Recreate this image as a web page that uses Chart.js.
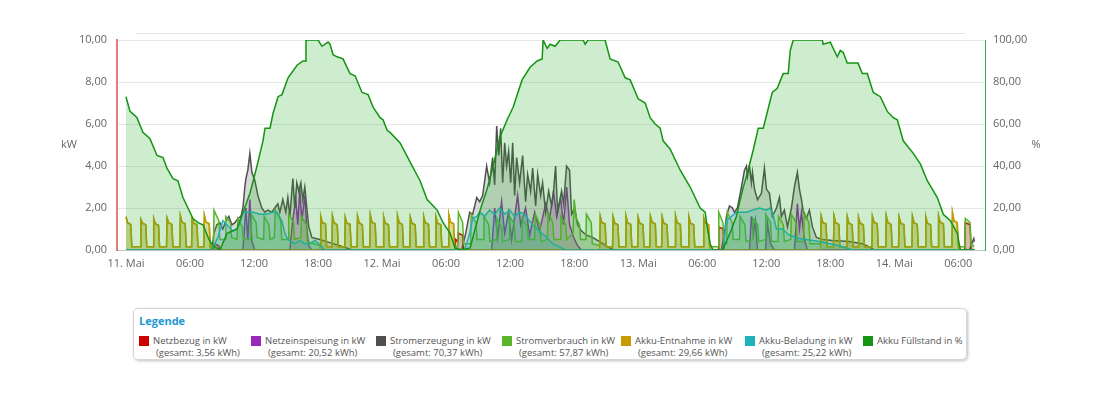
<!DOCTYPE html>
<html lang="de">
<head>
<meta charset="utf-8">
<title>Energiefluss</title>
<script src="https://cdn.jsdelivr.net/npm/chart.js@4.4.1/dist/chart.umd.min.js"></script>
<style>
  body { margin: 0; background: #fff; font-family: "Open Sans", sans-serif; }
  #chart-wrap { position: absolute; left: 0; top: 0; width: 1100px; height: 290px; }
  #legend {
    position: absolute; left: 133px; top: 308px; width: 834px; height: 52px;
    box-sizing: border-box; border: 1px solid #d6d6d6; border-radius: 5px;
    box-shadow: 1px 1px 3px rgba(0, 0, 0, 0.25); padding: 5px 5px 0 5px;
  }
  #legend .title { font-size: 11px; font-weight: bold; color: #1d98d3; line-height: 13px; }
  #legend .items { display: flex; margin-top: 8px; }
  #legend .item {
    display: flex; flex: none; white-space: nowrap;
    font-size: 9.5px; color: #555; line-height: 12px;
  }
  #legend .swatch { width: 10px; height: 10px; margin: 1px 4px 0 0; flex: none; }
  #legend .sum { padding-left: 3px; }
</style>
</head>
<body>
<div id="chart-wrap"><canvas id="energy-chart"></canvas></div>
<div id="legend">
  <div class="title">Legende</div>
  <div class="items" id="legend-items"></div>
</div>

<script>
// x values are hours since 11. Mai 00:00
const tickHours = [0, 6, 12, 18, 24, 30, 36, 42, 48, 54, 60, 66, 72, 78];
const tickLabels = ["11. Mai", "06:00", "12:00", "18:00", "12. Mai", "06:00", "12:00",
  "18:00", "13. Mai", "06:00", "12:00", "18:00", "14. Mai", "06:00"];

const seriesNames = ["Netzbezug in kW", "Netzeinspeisung in kW", "Stromerzeugung in kW",
  "Stromverbrauch in kW", "Akku-Entnahme in kW", "Akku-Beladung in kW", "Akku Füllstand in %"];
const seriesTotals = ["3,56 kWh", "20,52 kWh", "70,37 kWh", "57,87 kWh", "29,66 kWh", "25,22 kWh", null];

// [hour, kW]
const netzbezug = [
  [0, 0], [8.2, 0], [8.25, 0.3], [8.7, 0.2], [8.8, 0],
  [30.8, 0], [30.9, 0.5], [31.1, 0.4], [31.15, 0.8], [31.55, 0.7], [31.65, 0],
  [55.5, 0], [55.55, 1.1], [55.95, 1.0], [56.05, 0],
  [78.6, 0], [78.65, 1.3], [79.1, 1.2], [79.2, 0], [79.5, 0]
];

const netzeinspeisung = [
  [0, 0], [10.96, 0], [11.24, 2.0], [11.42, 0.5], [11.61, 2.4], [11.8, 0.4], [12.08, 0],
  [15.36, 0], [15.64, 1.5], [15.92, 2.4], [16.1, 1.2], [16.29, 2.9], [16.48, 1.4],
  [16.76, 2.6], [16.95, 1.0], [17.13, 0.2], [17.4, 0],
  [34.27, 0], [34.55, 2.0], [34.83, 0.6], [35.2, 2.3], [35.49, 0.8], [35.86, 1.8],
  [36.14, 0.5], [36.7, 2.6], [36.99, 1.2], [37.45, 2.0], [37.83, 0.7], [38.3, 1.8],
  [38.76, 0.9], [39.33, 2.2], [39.7, 1.5], [40.07, 2.8], [40.36, 1.6], [40.73, 2.5],
  [41.0, 1.2], [41.3, 3.0], [41.57, 1.2], [41.95, 0.6], [42.32, 0.2], [42.7, 0],
  [58.43, 0], [58.61, 1.6], [58.8, 0.8], [58.99, 1.4], [59.18, 0], [59.93, 0],
  [60.11, 1.3], [60.39, 0.3], [60.77, 0], [62.64, 0], [62.92, 2.2], [63.11, 1.0],
  [63.3, 1.8], [63.58, 0.5], [63.86, 0], [79.5, 0]
];

const stromerzeugung = [
  [0, 0], [8.05, 0], [8.24, 0.8], [8.52, 1.2], [8.8, 1.3], [9.08, 1.0], [9.36, 1.4],
  [9.64, 1.6], [9.93, 1.2], [10.21, 1.3], [10.49, 1.5], [10.77, 1.6], [10.96, 2.0],
  [11.14, 3.0], [11.24, 3.4], [11.42, 3.8], [11.61, 4.6], [11.8, 3.7], [12.08, 3.3],
  [12.36, 2.6], [12.73, 2.0], [13.01, 1.8], [13.3, 1.9], [13.67, 1.8], [13.95, 2.0],
  [14.23, 2.2], [14.42, 1.8], [14.7, 2.4], [14.98, 1.8], [15.17, 2.5], [15.36, 1.6],
  [15.64, 3.4], [15.82, 2.0], [16.01, 3.2], [16.2, 2.8], [16.39, 3.2], [16.57, 2.4],
  [16.76, 3.0], [16.95, 2.0], [17.13, 1.1], [17.42, 0.6], [18.16, 0.5], [19.1, 0.35],
  [20.04, 0.2], [20.97, 0.05], [21.16, 0],
  [31.46, 0], [31.84, 0.8], [32.21, 1.8], [32.49, 1.7], [32.87, 2.5], [33.15, 2.3],
  [33.43, 2.6], [33.8, 4.0], [34.08, 3.2], [34.36, 4.4], [34.55, 3.1], [34.74, 5.9],
  [34.93, 4.5], [35.11, 5.8], [35.3, 3.2], [35.49, 5.1], [35.67, 4.0], [35.86, 4.7],
  [36.05, 3.2], [36.24, 5.1], [36.42, 2.6], [36.61, 4.4], [36.89, 3.2], [37.17, 4.5],
  [37.45, 2.3], [37.64, 3.6], [37.92, 2.8], [38.11, 3.9], [38.39, 2.1], [38.58, 3.6],
  [38.86, 2.6], [39.04, 3.2], [39.33, 1.8], [39.61, 2.8], [39.89, 2.1], [40.07, 2.8],
  [40.26, 4.0], [40.45, 1.8], [40.82, 2.8], [41.01, 2.2], [41.29, 4.0], [41.57, 3.8],
  [41.76, 1.7], [42.04, 2.0], [42.32, 1.2], [42.7, 0.9], [43.16, 0.7], [43.73, 0.6],
  [44.38, 0.4], [45.32, 0.1], [45.79, 0],
  [55.8, 0], [56.09, 0.8], [56.27, 1.6], [56.55, 2.1], [56.84, 2.0], [57.02, 1.8],
  [57.3, 2.0], [57.68, 3.0], [57.96, 3.8], [58.15, 4.0], [58.24, 3.5], [58.43, 4.0],
  [58.61, 3.2], [58.71, 3.7], [58.9, 2.9], [59.18, 2.4], [59.55, 2.7], [59.83, 3.9],
  [60.02, 2.9], [60.3, 2.7], [60.58, 1.6], [60.96, 2.0], [61.24, 2.5], [61.42, 1.6],
  [61.7, 1.9], [61.99, 1.1], [62.36, 2.0], [62.64, 3.0], [62.92, 3.7], [63.11, 2.9],
  [63.3, 2.4], [63.48, 1.8], [63.76, 1.5], [64.04, 1.9], [64.33, 1.1], [64.7, 0.6],
  [65.26, 0.5], [66.2, 0.45], [67.79, 0.4], [69.01, 0.3], [69.66, 0.15], [70.13, 0],
  [79.03, 0], [79.45, 0.55], [79.5, 0.4]
];

// consumption pulses at night, covered by the battery
const nightPulses = [
  [0, 1.58], [0.15, 1.3], [0.45, 1.22], [0.55, 0.16],
  [1.35, 0.16], [1.4, 1.45], [1.55, 1.28], [1.85, 1.2], [1.95, 0.16],
  [2.55, 0.16], [2.6, 1.5], [2.75, 1.25], [3.05, 1.18], [3.15, 0.16],
  [3.8, 0.16], [3.85, 1.52], [4.0, 1.3], [4.3, 1.22], [4.4, 0.16],
  [5.05, 0.16], [5.1, 1.62], [5.25, 1.32], [5.55, 1.25], [5.65, 0.16],
  [6.15, 0.16], [6.2, 1.5], [6.35, 1.28], [6.65, 1.2], [6.75, 0.16],
  [7.3, 0.16], [7.35, 1.65], [7.5, 1.33], [7.8, 1.25], [7.9, 0.16],

  [18.2, 0.2], [18.25, 1.6], [18.4, 1.3], [18.7, 1.25], [18.8, 0.16],
  [19.3, 0.16], [19.35, 1.62], [19.5, 1.3], [19.8, 1.2], [19.9, 0.16],
  [20.5, 0.16], [20.55, 1.55], [20.7, 1.28], [21.0, 1.22], [21.1, 0.16],
  [21.65, 0.16], [21.7, 1.6], [21.85, 1.3], [22.15, 1.2], [22.25, 0.16],
  [22.85, 0.16], [22.9, 1.66], [23.05, 1.32], [23.35, 1.25], [23.45, 0.16],
  [24.1, 0.16], [24.15, 1.58], [24.3, 1.28], [24.6, 1.2], [24.7, 0.16],
  [25.4, 0.16], [25.45, 1.62], [25.6, 1.3], [25.9, 1.22], [26.0, 0.16],
  [26.6, 0.16], [26.65, 1.55], [26.8, 1.28], [27.1, 1.2], [27.2, 0.16],
  [27.85, 0.16], [27.9, 1.6], [28.05, 1.3], [28.35, 1.22], [28.45, 0.16],
  [29.0, 0.16], [29.05, 1.57], [29.2, 1.28], [29.5, 1.2], [29.6, 0.16],
  [30.2, 0.16], [30.25, 1.68], [30.4, 1.33], [30.7, 1.25], [30.8, 0.16],

  [44.4, 0.2], [44.45, 1.6], [44.6, 1.3], [44.9, 1.25], [45.0, 0.16],
  [45.6, 0.16], [45.65, 1.58], [45.8, 1.28], [46.1, 1.2], [46.2, 0.16],
  [46.8, 0.16], [46.85, 1.62], [47.0, 1.3], [47.3, 1.22], [47.4, 0.16],
  [47.95, 0.16], [48.0, 1.55], [48.15, 1.28], [48.45, 1.2], [48.55, 0.16],
  [49.1, 0.16], [49.15, 1.6], [49.3, 1.32], [49.6, 1.25], [49.7, 0.16],
  [50.2, 0.16], [50.25, 1.57], [50.4, 1.28], [50.7, 1.2], [50.8, 0.16],
  [51.45, 0.16], [51.5, 1.62], [51.65, 1.3], [51.95, 1.22], [52.05, 0.16],
  [52.7, 0.16], [52.75, 1.58], [52.9, 1.28], [53.2, 1.2], [53.3, 0.16],
  [54.1, 0.16], [54.15, 1.52], [54.3, 1.27], [54.6, 1.2], [54.7, 0.16],

  [65.1, 0.3], [65.15, 1.6], [65.3, 1.3], [65.6, 1.25], [65.7, 0.16],
  [66.3, 0.16], [66.35, 1.62], [66.5, 1.3], [66.8, 1.22], [66.9, 0.16],
  [67.55, 0.16], [67.6, 1.58], [67.75, 1.28], [68.05, 1.2], [68.15, 0.16],
  [68.6, 0.16], [68.65, 1.55], [68.8, 1.28], [69.1, 1.2], [69.2, 0.16],
  [69.9, 0.16], [69.95, 1.6], [70.1, 1.32], [70.4, 1.25], [70.5, 0.16],
  [71.2, 0.16], [71.25, 1.62], [71.4, 1.3], [71.7, 1.22], [71.8, 0.16],
  [72.4, 0.16], [72.45, 1.57], [72.6, 1.28], [72.9, 1.2], [73.0, 0.16],
  [73.65, 0.16], [73.7, 1.6], [73.85, 1.3], [74.15, 1.22], [74.25, 0.16],
  [74.9, 0.16], [74.95, 1.58], [75.1, 1.28], [75.4, 1.2], [75.5, 0.16],
  [76.1, 0.16], [76.15, 1.62], [76.3, 1.32], [76.6, 1.25], [76.7, 0.16],
  [77.4, 0.16], [77.45, 1.78], [77.6, 1.38], [77.9, 1.3], [78.0, 0.16]
];

// battery discharge is zero between the nights
const entnahmeZero = [[7.95, 0], [18.15, 0], [30.85, 0], [44.35, 0], [54.75, 0],
  [65.05, 0], [78.05, 0], [79.5, 0]];

// consumption during the day and while the battery is empty
const verbrauchTag = [
  [8.2, 0.16], [8.25, 1.9], [8.7, 1.4], [8.8, 0.5], [9.3, 0.5], [9.35, 1.6], [9.8, 1.3],
  [9.9, 0.6], [10.4, 0.5], [10.5, 1.5], [10.9, 1.1], [11.0, 0.5], [11.7, 0.5], [11.75, 1.7],
  [12.2, 1.3], [12.3, 0.6], [12.9, 0.5], [12.95, 1.6], [13.4, 1.2], [13.5, 0.5], [13.9, 0.6],
  [14.0, 1.9], [14.5, 1.4], [14.6, 0.5], [15.2, 0.5], [15.25, 1.7], [15.7, 1.3], [15.8, 0.5],
  [16.4, 0.6], [16.45, 1.6], [16.9, 1.2], [17.0, 0.4], [17.6, 0.3],
  [31.1, 0.16], [31.15, 1.8], [31.55, 1.3], [31.65, 0.3],
  [32.3, 0.3], [32.35, 1.7], [32.8, 1.3], [32.9, 0.5], [33.5, 0.5], [33.55, 1.6], [34.0, 1.2],
  [34.1, 0.4], [34.7, 0.5], [34.75, 1.5], [35.2, 1.1], [35.3, 0.4], [35.9, 0.5], [35.95, 1.6],
  [36.4, 1.2], [36.5, 0.4], [37.1, 0.4], [37.15, 1.5], [37.6, 1.1], [37.7, 0.5], [38.3, 0.5],
  [38.35, 1.7], [38.8, 1.2], [38.9, 0.4], [39.5, 0.5], [39.55, 1.8], [40.0, 1.3], [40.1, 0.5],
  [40.7, 0.5], [40.75, 1.6], [41.2, 1.2], [41.3, 0.5], [41.9, 0.8], [42.0, 2.4], [42.2, 1.5],
  [42.5, 1.2], [42.6, 0.5], [43.1, 0.5], [43.15, 1.7], [43.6, 1.3], [43.7, 0.3],
  [55.5, 0.16], [55.55, 1.8], [55.95, 1.3], [56.05, 0.3],
  [56.3, 0.3], [56.35, 1.8], [56.8, 1.3], [56.9, 0.5], [57.5, 0.5], [57.55, 1.6], [58.0, 1.2],
  [58.1, 0.4], [58.7, 0.5], [58.75, 1.5], [59.2, 1.2], [59.3, 0.4], [59.9, 0.5], [59.95, 1.7],
  [60.4, 1.3], [60.5, 0.4], [61.1, 0.4], [61.15, 1.6], [61.6, 1.2], [61.7, 0.4], [62.3, 0.5],
  [62.35, 1.7], [62.8, 1.3], [62.9, 0.4], [63.5, 0.4], [63.55, 1.8], [64.0, 1.3], [64.1, 0.3],
  [64.6, 0.3],
  [78.6, 0.16], [78.65, 1.5], [79.1, 1.3], [79.2, 0.2], [79.5, 0.2]
];

const akkuBeladung = [
  [0, 0], [8.05, 0], [8.33, 0.3], [8.61, 0.6], [9.08, 1.4], [9.46, 1.2], [10.02, 0.9],
  [10.39, 1.0], [10.67, 1.3], [10.96, 1.8], [11.33, 1.8], [11.89, 1.8], [12.55, 1.7],
  [13.2, 1.7], [13.67, 1.8], [14.14, 1.8], [14.61, 1.4], [14.89, 0.8], [15.17, 0.5],
  [15.82, 0.3], [16.29, 0.45], [16.76, 0.3], [17.23, 0.3], [17.7, 0.45], [18.16, 0.25],
  [18.63, 0],
  [31.74, 0], [32.21, 0.8], [32.49, 1.5], [32.87, 1.6], [33.15, 1.8], [33.61, 1.6],
  [34.08, 1.9], [34.55, 1.7], [35.02, 2.0], [35.49, 1.7], [35.96, 1.9], [36.42, 1.6],
  [36.89, 1.8], [37.36, 1.7], [37.64, 1.5], [38.11, 1.2], [38.76, 0.9], [39.42, 0.6],
  [39.98, 0.3], [40.64, 0.15], [41.2, 0],
  [55.99, 0], [56.27, 1.4], [56.74, 1.6], [57.21, 1.8], [58.15, 1.8], [58.71, 1.9],
  [59.36, 2.0], [60.02, 1.9], [60.3, 2.0], [60.58, 1.8], [60.96, 1.0], [61.52, 1.0],
  [62.17, 0.7], [63.11, 0.55], [64.98, 0.4], [66.85, 0.2], [68.07, 0], [79.5, 0]
];

// [hour, %]
const akkuFuellstand = [
  [0, 73], [0.38, 66], [0.84, 64], [1.03, 63], [1.59, 56], [2.25, 53], [2.91, 45], [3.47, 44],
  [3.84, 39], [4.41, 34], [4.87, 33], [5.34, 25], [6.28, 15], [6.75, 13], [7.22, 12], [7.78, 5],
  [8.16, 2], [8.81, 0], [9.47, 8], [10.41, 10], [10.97, 18], [11.62, 27], [12.28, 40],
  [12.84, 52], [13.03, 58], [13.5, 58], [13.78, 65], [14.25, 73], [14.62, 74], [15.19, 82],
  [16.03, 88], [16.59, 90], [16.78, 90], [16.87, 100], [18.0, 100], [18.37, 97], [18.66, 98],
  [18.94, 99], [19.12, 98], [19.41, 93], [19.78, 92], [20.34, 91], [21.0, 84], [21.47, 83],
  [22.12, 75], [22.69, 74], [23.16, 68], [23.81, 63], [24.09, 62], [24.47, 57], [24.75, 56],
  [25.69, 51], [26.62, 42], [27.56, 33], [28.22, 24], [29.16, 19], [29.72, 13], [30.37, 8],
  [30.84, 1], [31.5, 0], [32.25, 1], [33.19, 19], [33.84, 29], [34.41, 40], [35.06, 54],
  [35.72, 62], [36.28, 68], [37.12, 81], [37.87, 87], [38.53, 90], [39.0, 91], [39.09, 100],
  [39.47, 96], [39.75, 98], [40.22, 97], [40.69, 100], [42.84, 100], [43.03, 98], [43.3, 100],
  [44.9, 100], [45.37, 91], [46.12, 89.5], [46.78, 82], [47.25, 81], [48.0, 72], [48.66, 70],
  [49.12, 63], [49.59, 60], [50.06, 58], [50.34, 52], [51.0, 48], [51.94, 38], [52.87, 30],
  [53.81, 20], [54.28, 18], [54.47, 11], [54.75, 3], [55.0, 0], [55.9, 0], [56.6, 8],
  [57.2, 16], [57.8, 29], [58.3, 38], [58.8, 48], [59.25, 58], [59.72, 58], [60.56, 75],
  [61.03, 77], [61.59, 84], [62.06, 84], [62.25, 95], [62.53, 100], [65.25, 100], [65.34, 98],
  [66.0, 99], [66.66, 92], [66.94, 95], [67.22, 94], [67.59, 89], [68.6, 89], [69.0, 84],
  [69.47, 84], [70.03, 75], [70.69, 73], [71.34, 66], [71.9, 63], [72.28, 62], [72.84, 52],
  [73.78, 46], [74.44, 41], [75.09, 33], [76.03, 25], [76.59, 17], [77.25, 14], [77.9, 8],
  [78.19, 0], [79.5, 0]
];

const sortByHour = (points) => points.slice().sort((a, b) => a[0] - b[0]);
const akkuEntnahme = sortByHour(nightPulses.concat(entnahmeZero));
const stromverbrauch = sortByHour(nightPulses.concat(verbrauchTag));

const formatDe = (v) => v.toFixed(2).replace(".", ",");

function areaSeries(index, points, color, fillColor, axis, order) {
  return {
    label: seriesNames[index],
    data: points,
    borderColor: color,
    backgroundColor: fillColor,
    borderWidth: 1.5,
    fill: "origin",
    pointRadius: 0,
    tension: 0,
    yAxisID: axis,
    order: order,
  };
}

// axis titles sit horizontally next to the tick labels, plus the thin line above the plot
const decorations = {
  id: "decorations",
  afterDraw(chart) {
    const { ctx, chartArea } = chart;
    const midY = (chartArea.top + chartArea.bottom) / 2;
    ctx.save();
    ctx.strokeStyle = "#e3e3e3";
    ctx.lineWidth = 1;
    ctx.beginPath();
    ctx.moveTo(chartArea.left + 19, chartArea.top - 6.5);
    ctx.lineTo(chartArea.right - 20, chartArea.top - 6.5);
    ctx.stroke();
    ctx.fillStyle = "#666";
    ctx.font = '11px "Open Sans"';
    ctx.textAlign = "center";
    ctx.textBaseline = "middle";
    ctx.fillText("kW", chartArea.left - 48, midY);
    ctx.fillText("%", chartArea.right + 51, midY);
    ctx.restore();
  },
};

const colors = ["#cc0000", "#9b27b8", "#505050", "#5bb52b", "#c99a00", "#1fb2b8", "#139413"];
// legend slot widths, so each entry starts where it does in the original
const legendSlots = [112, 125, 126, 119, 124, 118, 100];

const chart = new Chart(document.getElementById("energy-chart"), {
  type: "line",
  data: {
    datasets: [
      areaSeries(0, netzbezug, colors[0], "rgba(204, 0, 0, 0.25)", "y", 6),
      areaSeries(1, netzeinspeisung, colors[1], "rgba(155, 39, 184, 0.25)", "y", 5),
      areaSeries(2, stromerzeugung, colors[2], "rgba(80, 80, 80, 0.22)", "y", 4),
      areaSeries(3, stromverbrauch, colors[3], "rgba(91, 181, 43, 0.2)", "y", 3),
      areaSeries(4, akkuEntnahme, colors[4], "rgba(201, 154, 0, 0.25)", "y", 2),
      areaSeries(5, akkuBeladung, colors[5], "rgba(31, 178, 184, 0.22)", "y", 1),
      areaSeries(6, akkuFuellstand, colors[6], "rgba(30, 170, 30, 0.22)", "y1", 0),
    ],
  },
  options: {
    responsive: true,
    maintainAspectRatio: false,
    animation: false,
    layout: { padding: { top: 40, left: 0, right: 0, bottom: 0 } },
    plugins: { legend: { display: false }, tooltip: { enabled: false } },
    scales: {
      x: {
        type: "linear",
        min: -0.84,
        max: 80.5,
        afterFit: (scale) => { scale.height = 40; },
        afterBuildTicks: (scale) => {
          scale.ticks = tickHours.map((h) => ({ value: h }));
        },
        ticks: {
          autoSkip: false,
          maxRotation: 0,
          padding: 7,
          color: "#666",
          font: { family: "Open Sans", size: 11 },
          callback: (value, index) => tickLabels[index],
        },
        grid: { display: false, drawTicks: false },
        border: { display: true, color: "#c4c4c4", width: 1 },
      },
      y: {
        position: "left",
        min: 0,
        max: 10,
        afterFit: (scale) => { scale.width = 117; },
        ticks: {
          stepSize: 2,
          padding: 10,
          color: "#666",
          font: { family: "Open Sans", size: 11 },
          callback: (v) => formatDe(v),
        },
        grid: { color: "#e6e6e6", drawTicks: false },
        border: { display: true, color: "rgba(204, 40, 40, 0.6)", width: 2 },
      },
      y1: {
        position: "right",
        min: 0,
        max: 100,
        afterFit: (scale) => { scale.width = 115; },
        ticks: {
          stepSize: 20,
          padding: 8,
          color: "#666",
          font: { family: "Open Sans", size: 11 },
          callback: (v) => formatDe(v),
        },
        grid: { display: false, drawTicks: false },
        border: { display: true, color: "#3aa83a", width: 1 },
      },
    },
  },
  plugins: [decorations],
});

// HTML legend with the kWh totals under each name
const legendItems = document.getElementById("legend-items");
chart.data.datasets.forEach((ds, i) => {
  const item = document.createElement("div");
  item.className = "item";
  item.style.width = legendSlots[i] + "px";
  const total = seriesTotals[i] ? `<div class="sum">(gesamt: ${seriesTotals[i]})</div>` : "";
  item.innerHTML = `<span class="swatch" style="background:${colors[i]}"></span>
    <div><div>${ds.label}</div>${total}</div>`;
  legendItems.appendChild(item);
});
</script>
</body>
</html>
